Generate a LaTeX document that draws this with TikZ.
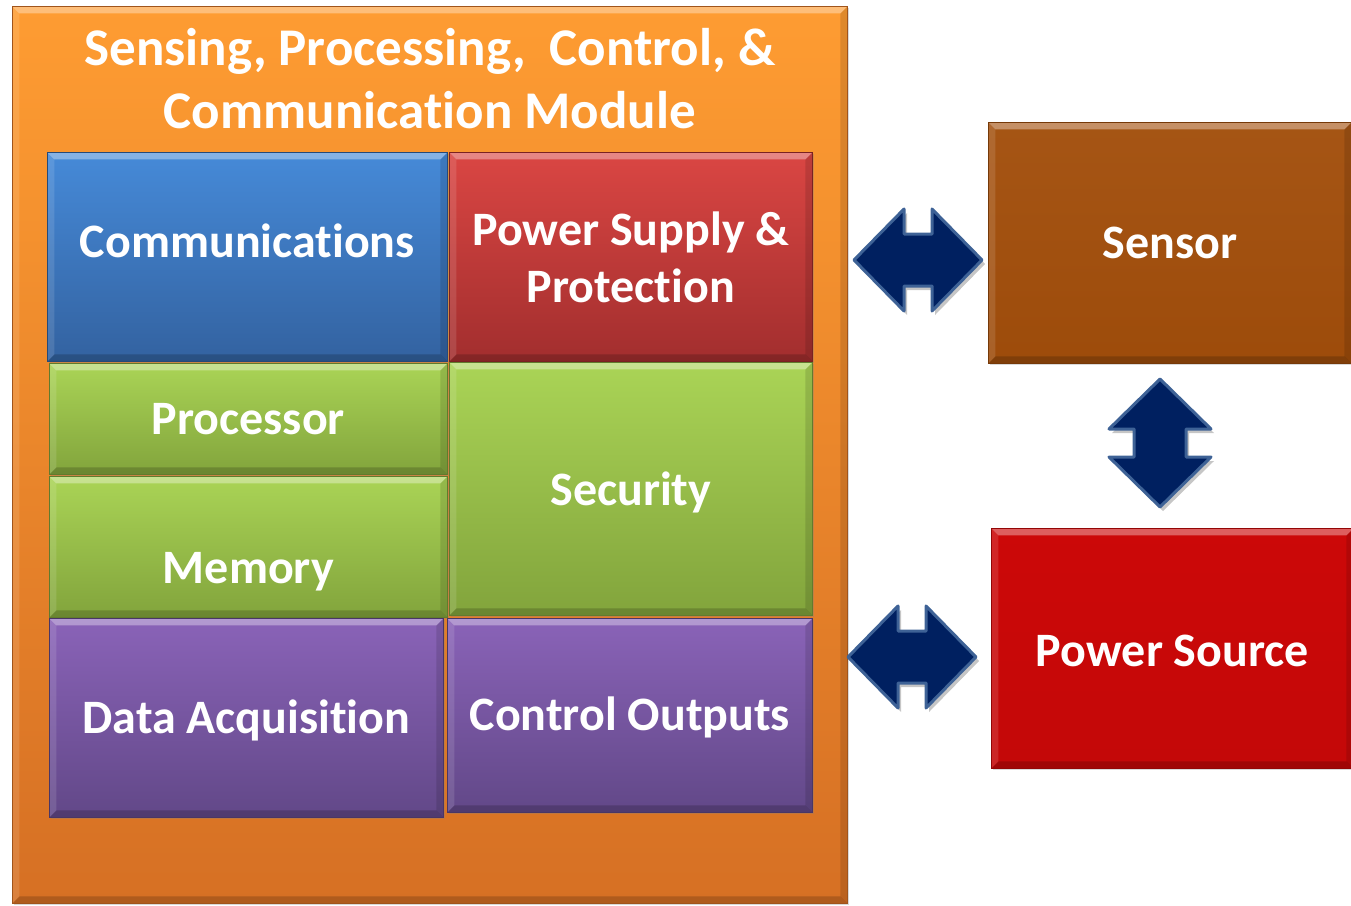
\documentclass[tikz,border=0pt]{standalone}
\usepackage{fontspec}
\setmainfont{Carlito}[Ligatures=NoCommon, RawFeature={-calt}]
\usetikzlibrary{positioning,calc,shadows}

\definecolor{modtop}{RGB}{254,156,50}
\definecolor{modbot}{RGB}{214,112,36}
\definecolor{commtop}{RGB}{70,138,216}
\definecolor{commbot}{RGB}{51,98,160}
\definecolor{psutop}{RGB}{218,70,67}
\definecolor{psubot}{RGB}{162,46,46}
\definecolor{greentop}{RGB}{170,212,86}
\definecolor{greenbot}{RGB}{130,164,60}
\definecolor{purptop}{RGB}{138,99,184}
\definecolor{purpbot}{RGB}{98,72,136}
\definecolor{sensclr}{RGB}{162,78,11}
\definecolor{srcclr}{RGB}{204,8,8}
\definecolor{arrowfill}{RGB}{0,32,96}
\definecolor{arrowedge}{RGB}{62,98,150}

\tikzset{
  % raised look: light band on top, dark band at the bottom
  bevel/.style={path picture={
    \fill[white,opacity=.35] (path picture bounding box.north west) -- (path picture bounding box.north east)
      -- ([shift={(-7pt,-7pt)}]path picture bounding box.north east) -- ([shift={(7pt,-7pt)}]path picture bounding box.north west) -- cycle;
    \fill[white,opacity=.12] (path picture bounding box.north west) -- ([shift={(7pt,-7pt)}]path picture bounding box.north west)
      -- ([shift={(7pt,7pt)}]path picture bounding box.south west) -- (path picture bounding box.south west) -- cycle;
    \fill[black,opacity=.12] (path picture bounding box.north east) -- ([shift={(-7pt,-7pt)}]path picture bounding box.north east)
      -- ([shift={(-7pt,7pt)}]path picture bounding box.south east) -- (path picture bounding box.south east) -- cycle;
    \fill[black,opacity=.18] (path picture bounding box.south west) -- (path picture bounding box.south east)
      -- ([shift={(-7pt,7pt)}]path picture bounding box.south east) -- ([shift={(7pt,7pt)}]path picture bounding box.south west) -- cycle;
  }},
  blk/.style 2 args={anchor=north west, inner sep=0pt, top color=#1, bottom color=#2,
    draw=#2!75!black, line width=.8pt, bevel, align=center, text=white,
    font=\fontsize{48}{57}\selectfont\bfseries,
    drop shadow={opacity=.3, shadow xshift=1.5pt, shadow yshift=-2pt}},
  % fixes where the label sits inside its block
  txt/.style={text height=#1, text depth=0pt},
  heading/.style={inner sep=0pt, align=center, text=white, font=\fontsize{53}{63}\selectfont\bfseries},
  arrowbody/.style={fill=arrowfill, draw=arrowedge, line width=3pt, line join=round,
    drop shadow={opacity=.45, shadow xshift=3pt, shadow yshift=-4pt}},
  pics/dblarrow/.style={code={
    \draw[arrowbody] (-64,0) -- (-14,-51) -- (-14,-26) -- (14,-26) -- (14,-51) -- (64,0)
      -- (14,51) -- (14,26) -- (-14,26) -- (-14,51) -- cycle;
  }}
}

\begin{document}
\begin{tikzpicture}[x=1pt,y=-1pt]
  \useasboundingbox (0,0) rectangle (1351,905);
  % outer module and its heading
  \node[blk={modtop}{modbot}, minimum width=835pt, minimum height=897pt] (module) at (12,6) {};
  \node[heading, below=22pt of module.north] (title) {Sensing, Processing,\ \ Control, \&\\Communication Module};
  % blocks inside the module
  \node[blk={commtop}{commbot}, txt=2pt, minimum width=400pt, minimum height=209pt] (comm) at (47,152) {Communications};
  \node[blk={psutop}{psubot}, minimum width=363pt, minimum height=209pt] (psu) at (449,152) {Power Supply \&\\Protection};
  \node[blk={greentop}{greenbot}, txt=31pt, minimum width=398pt, minimum height=111pt] (proc) at (49,363) {Processor};
  \node[blk={greentop}{greenbot}, txt=74pt, minimum width=398pt, minimum height=141pt] (mem) at (49,476) {Memory};
  \node[blk={greentop}{greenbot}, txt=34pt, minimum width=363pt, minimum height=253pt] (sec) at (449,362) {Security};
  \node[blk={purptop}{purpbot}, txt=31pt, minimum width=394pt, minimum height=199pt] (daq) at (49,618) {Data Acquisition};
  \node[blk={purptop}{purpbot}, txt=31pt, minimum width=365pt, minimum height=194pt] (ctl) at (447,618) {Control Outputs};
  % outside blocks
  \node[blk={sensclr!96!white}{sensclr!97!black}, txt=31pt, minimum width=363pt, minimum height=241pt] (sensor) at (988,122) {Sensor};
  \node[blk={srcclr}{srcclr!96!black}, txt=37pt, minimum width=362pt, minimum height=240pt] (psrc) at (991,528) {Power Source};
  % links
  \pic at (918,260) {dblarrow};
  \pic[rotate=90] at (1160,443) {dblarrow};
  \pic at (912,657) {dblarrow};
\end{tikzpicture}
\end{document}
